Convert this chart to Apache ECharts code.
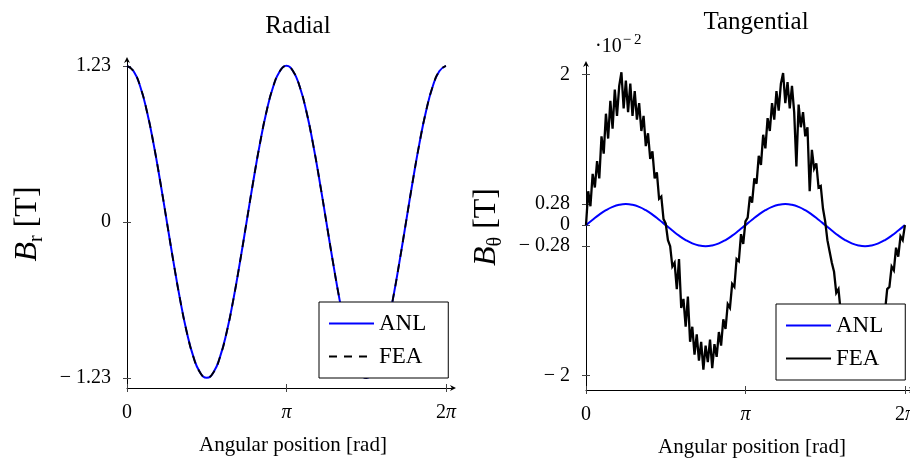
<!DOCTYPE html>
<html><head><meta charset="utf-8">
<script src="https://cdn.jsdelivr.net/npm/echarts@6/dist/echarts.min.js"></script>
<style>html,body{margin:0;padding:0;background:#fff}#c{width:910px;height:459px}</style>
</head><body><div id="c"></div>
<script>
// angular positions in degrees (axis labelled in radians)
const anlTheta = [0,7.5,15,22.5,30,37.5,45,52.5,60,67.5,75,82.5,90,97.5,105,112.5,120,127.5,135,142.5,150,157.5,165,172.5,180,187.5,195,202.5,210,217.5,225,232.5,240,247.5,255,262.5,270,277.5,285,292.5,300,307.5,315,322.5,330,337.5,345,352.5,360];
const radialANL = [1.23,1.188,1.065,0.870,0.615,0.318,0,-0.318,-0.615,-0.870,-1.065,-1.188,-1.23,-1.188,-1.065,-0.870,-0.615,-0.318,0,0.318,0.615,0.870,1.065,1.188,1.23,1.188,1.065,0.870,0.615,0.318,0,-0.318,-0.615,-0.870,-1.065,-1.188,-1.23,-1.188,-1.065,-0.870,-0.615,-0.318,0,0.318,0.615,0.870,1.065,1.188,1.23];
const radialFEA = [1.23,1.188,1.065,0.870,0.615,0.318,0,-0.318,-0.615,-0.870,-1.065,-1.188,-1.23,-1.188,-1.065,-0.870,-0.615,-0.318,0,0.318,0.615,0.870,1.065,1.188,1.23,1.188,1.065,0.870,0.615,0.318,0,-0.318,-0.615,-0.870,-1.065,-1.188,-1.23,-1.188,-1.065,-0.870,-0.615,-0.318,0,0.318,0.615,0.870,1.065,1.188,1.23];
const tangANL = [0,0.072,0.140,0.198,0.242,0.270,0.28,0.270,0.242,0.198,0.140,0.072,0,-0.072,-0.140,-0.198,-0.242,-0.270,-0.28,-0.270,-0.242,-0.198,-0.140,-0.072,0,0.072,0.140,0.198,0.242,0.270,0.28,0.270,0.242,0.198,0.140,0.072,0,-0.072,-0.140,-0.198,-0.242,-0.270,-0.28,-0.270,-0.242,-0.198,-0.140,-0.072,0];
const feaTheta = [0,2.5,5,7.5,10,12.5,15,17.5,20,22.5,25,27.5,30,32.5,35,37.5,40,42.5,45,47.5,50,52.5,55,57.5,60,62.5,65,67.5,70,72.5,75,77.5,80,82.5,85,87.5,90,92.5,95,97.5,100,102.5,105,107.5,110,112.5,115,117.5,120,122.5,125,127.5,130,132.5,135,137.5,140,142.5,145,147.5,150,152.5,155,157.5,160,162.5,165,167.5,170,172.5,175,177.5,180,182.5,185,187.5,190,192.5,195,197.5,200,202.5,205,207.5,210,212.5,215,217.5,220,222.5,225,227.5,230,232.5,235,237.5,240,242.5,245,247.5,250,252.5,255,257.5,260,262.5,265,267.5,270,272.5,275,277.5,280,282.5,285,287.5,290,292.5,295,297.5,300,302.5,305,307.5,310,312.5,315,317.5,320,322.5,325,327.5,330,332.5,335,337.5,340,342.5,345,347.5,350,352.5,355,357.5,360];
const tangFEA = [0.00,0.45,0.25,0.68,0.50,0.85,0.62,1.18,0.95,1.48,1.15,1.65,1.28,1.80,1.45,1.85,2.03,1.55,1.92,1.50,1.88,1.45,1.78,1.40,1.62,1.25,1.45,1.05,1.22,0.88,0.98,0.62,0.70,0.35,0.38,0.08,0.02,
 -0.20,-0.28,-0.55,-0.50,-0.85,-0.45,-1.10,-0.98,-1.35,-0.95,-1.55,-1.35,-1.72,-1.45,-1.80,-1.55,-1.92,-1.60,-1.82,-1.52,-1.90,-1.58,-1.75,-1.42,-1.60,-1.25,-1.38,-1.05,-1.10,-0.78,-0.82,-0.45,-0.48,-0.12,-0.25,0.05,
 0.10,0.38,0.30,0.62,0.55,0.92,0.80,1.20,1.02,1.42,1.25,1.62,1.40,1.78,1.52,1.88,2.02,1.62,1.90,1.55,1.85,1.50,0.78,1.60,1.30,1.50,1.18,1.30,0.45,1.00,0.75,0.82,0.50,0.52,0.22,0.05,
 -0.20,-0.35,-0.50,-0.62,-0.90,-0.85,-1.15,-1.08,-1.40,-1.30,-1.62,-1.50,-1.78,-1.58,-1.85,-1.70,-1.92,-1.65,-1.80,-1.60,-1.75,-1.50,-1.55,-1.30,-1.40,-1.12,-1.15,-0.85,-0.82,-0.55,-0.60,-0.30,-0.42,-0.15,-0.20,0.00];
const xTickValues = [0,180,360];
const xTickLabels = ['0','{p|π}','2{p|π}'];
const radialTicks = [-1.23,0,1.23];
const radialTickLabels = ['− 1.23','0','1.23'];
const tangTicks = [-2,-0.28,0,0.28,2];
const tangTickLabels = ['− 2','− 0.28','0','0.28','2'];

const SERIF = "'Liberation Serif','DejaVu Serif',serif";
const ARROW = 'path://M0,0L4,8L0,5.6L-4,8Z';
const pairs = (xs, ys) => xs.map((x, i) => [x, ys[i]]);
const lookup = (vals, labels) => v => { const i = vals.findIndex(t => Math.abs(t - v) < 1e-6); return i < 0 ? '' : labels[i]; };

function xAxes(grid) {
  return [{
    type:'value', gridIndex:grid, position:'bottom', min:0, max:368,
    axisLine:{show:true, onZero:false, symbol:['none',ARROW], symbolSize:[6,7], lineStyle:{color:'#000', width:1}},
    axisTick:{show:true, customValues:xTickValues, length:4, inside:false, lineStyle:{color:'#444'}},
    axisLabel:{customValues:xTickValues, formatter:lookup(xTickValues, xTickLabels), fontFamily:SERIF, fontSize:20, color:'#000', margin:15,
      rich:{p:{fontFamily:SERIF, fontStyle:'italic', fontSize:20, color:'#000'}}},
    splitLine:{show:false},
    name:'Angular position [rad]', nameLocation:'middle', nameGap:47,
    nameTextStyle:{fontFamily:SERIF, fontSize:21, color:'#000', padding:[0,0,0,6]}
  },{
    type:'value', gridIndex:grid, position:'bottom', min:0, max:368,
    axisLine:{show:false, onZero:false}, axisLabel:{show:false}, splitLine:{show:false},
    axisTick:{show:true, customValues:xTickValues, length:4, inside:true, lineStyle:{color:'#444'}}
  }];
}
function yAxes(grid, mn, mx, ticks, labels, name, gap) {
  return [{
    type:'value', gridIndex:grid, position:'left', min:mn, max:mx,
    axisLine:{show:true, onZero:false, symbol:['none',ARROW], symbolSize:[6,7], lineStyle:{color:'#000', width:1}},
    axisTick:{show:true, customValues:ticks, length:4, inside:false, lineStyle:{color:'#444'}},
    axisLabel:{customValues:ticks, formatter:lookup(ticks, labels), fontFamily:SERIF, fontSize:20, color:'#000', margin:16},
    splitLine:{show:false},
    name:name, nameLocation:'middle', nameGap:gap, nameRotate:90,
    nameTextStyle:{rich:{
      b:{fontFamily:SERIF, fontStyle:'italic', fontSize:32, color:'#000', verticalAlign:'bottom', padding:[0,0,3,0]},
      s:{fontFamily:SERIF, fontSize:20, color:'#000', verticalAlign:'bottom'},
      n:{fontFamily:SERIF, fontSize:32, color:'#000', verticalAlign:'bottom', padding:[0,0,3,0]}
    }}
  },{
    type:'value', gridIndex:grid, position:'left', min:mn, max:mx,
    axisLine:{show:false, onZero:false}, axisLabel:{show:false}, splitLine:{show:false},
    axisTick:{show:true, customValues:ticks, length:4, inside:true, lineStyle:{color:'#444'}}
  }];
}
const legendBase = {
  orient:'vertical', itemWidth:45, itemHeight:14, itemGap:10, padding:[10,22,10,9],
  backgroundColor:'#fff', borderColor:'#000', borderWidth:1, borderRadius:0,
  itemStyle:{opacity:0, borderWidth:0},
  textStyle:{fontFamily:SERIF, fontSize:23, color:'#000', lineHeight:22}, selectedMode:false
};

const chart = echarts.init(document.getElementById('c'), null, {renderer:'canvas'});
chart.setOption({
  animation:false,
  backgroundColor:'#fff',
  title:[
    {text:'Radial', left:293, top:9, textAlign:'center', textStyle:{fontFamily:SERIF, fontSize:25, fontWeight:'normal', color:'#000'}},
    {text:'Tangential', left:751, top:5, textAlign:'center', textStyle:{fontFamily:SERIF, fontSize:25, fontWeight:'normal', color:'#000'}},
    {text:'{a|·10}{b|−\u20092}', left:590, top:28, textStyle:{fontWeight:'normal', rich:{
      a:{fontFamily:SERIF, fontSize:20, fontWeight:'normal', color:'#000', verticalAlign:'bottom'},
      b:{fontFamily:SERIF, fontSize:15, fontWeight:'normal', color:'#000', verticalAlign:'bottom', padding:[0,0,9,1]}}}}
  ],
  grid:[
    {left:127, top:60, width:326, height:328, outerBoundsMode:'none', containLabel:false},
    {left:586, top:64, width:326, height:326, outerBoundsMode:'none', containLabel:false}
  ],
  xAxis:[...xAxes(0), ...xAxes(1)],
  yAxis:[...yAxes(0,-1.31,1.276,radialTicks,radialTickLabels,'{b|B}{s|r}{n| [T]}',80),
         ...yAxes(1,-2.19,2.14,tangTicks,tangTickLabels,'{b|B}{s|θ}{n| [T]}',80)],
  legend:[
    Object.assign({}, legendBase, {left:319, top:302, data:['ANL','FEA']}),
    Object.assign({}, legendBase, {left:776, top:304, data:['ANL (t)','FEA (t)'], formatter:n => n.replace(' (t)','')})
  ],
  series:[
    {type:'line', name:'ANL', xAxisIndex:0, yAxisIndex:0, data:pairs(anlTheta, radialANL), smooth:true, symbol:'none',
     lineStyle:{color:'#0000ff', width:2}, itemStyle:{color:'#0000ff'}},
    {type:'line', name:'FEA', xAxisIndex:0, yAxisIndex:0, data:pairs(anlTheta, radialFEA), smooth:true, symbol:'none',
     lineStyle:{color:'#000', width:1.8, type:[8,7]}, itemStyle:{color:'#000'}},
    {type:'line', name:'ANL (t)', xAxisIndex:2, yAxisIndex:2, data:pairs(anlTheta, tangANL), smooth:true, symbol:'none',
     lineStyle:{color:'#0000ff', width:2}, itemStyle:{color:'#0000ff'}},
    {type:'line', name:'FEA (t)', xAxisIndex:2, yAxisIndex:2, data:pairs(feaTheta, tangFEA), symbol:'none',
     lineStyle:{color:'#000', width:2.3, join:'miter', miterLimit:4}, itemStyle:{color:'#000'}}
  ]
});
</script></body></html>
